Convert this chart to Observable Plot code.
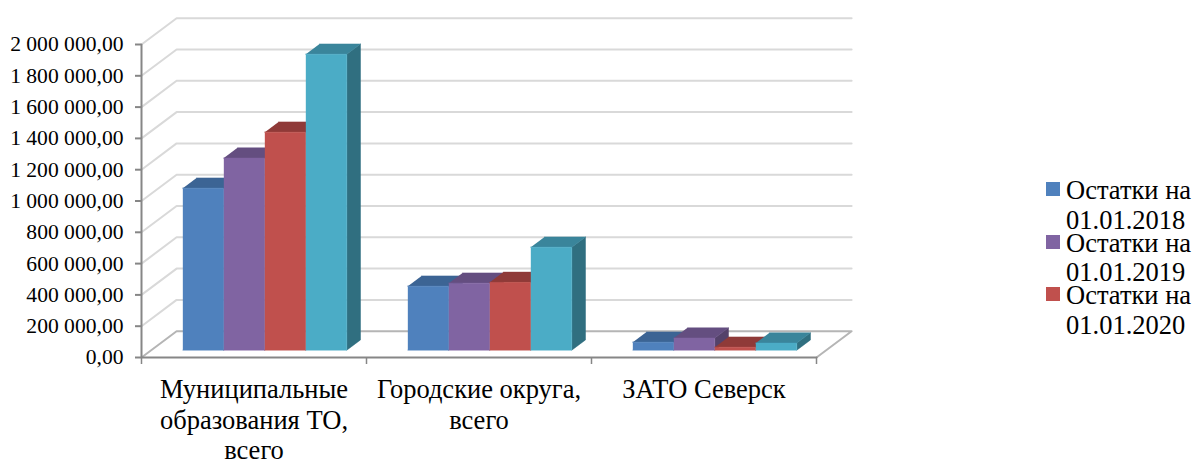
<!DOCTYPE html>
<html><head><meta charset="utf-8">
<script src="https://cdn.jsdelivr.net/npm/d3@7"></script>
<script src="https://cdn.jsdelivr.net/npm/@observablehq/plot@0.6"></script>
<style>
html,body{margin:0;padding:0;background:#fff}
#wrap{position:relative;width:1195px;height:459px;overflow:hidden}
#legend{position:absolute;left:1046px;top:176px;font:26.5px/29.5px "Liberation Serif",serif;color:#000}
#legend div{position:relative;padding-left:20px;height:52.5px;white-space:nowrap}
#legend i{position:absolute;left:0;top:6px;width:14px;height:14px}
</style></head><body><div id="wrap"></div>
<script>
const categories = ["Муниципальные\nобразования ТО,\nвсего", "Городские округа,\nвсего", "ЗАТО Северск"];
const series = ["Остатки на\n01.01.2018", "Остатки на\n01.01.2019", "Остатки на\n01.01.2020", "Остатки на\n01.01.2021"];
const values2018 = [1035000, 409000, 51000];
const values2019 = [1227000, 428000, 77000];
const values2020 = [1393000, 433000, 19000];
const values2021 = [1891000, 658000, 45000];
const frontColors = ["#4f81bd", "#8064a2", "#c0504d", "#4bacc6"];
const topColors = ["#3c6494", "#644e80", "#8f3a38", "#3a859b"];
const sideColors = ["#34547c", "#54426a", "#7a3230", "#306f80"];
const yTicks = [0, 200000, 400000, 600000, 800000, 1000000, 1200000, 1400000, 1600000, 1800000, 2000000];
const table = [values2018, values2019, values2020, values2021];

// oblique projection: depth 0 = front plane, depth 1 = back wall
const depthX = 0.156, depthY = 168000;
const P = (x, v, d) => ({x: x + d * depthX, y: v + d * depthY});
const barW = 0.1822, groupLeft = 0.14, frontD = 0.28, backD = 0.67;

const polys = [];
const add = (id, color, pts) => pts.forEach(p => polys.push({id, color, ...p}));
categories.forEach((_, c) => table.forEach((vals, s) => {
  const x0 = c + groupLeft + s * barW, x1 = x0 + barW, v = vals[c], id = c + "-" + s;
  add(id + "side", sideColors[s], [P(x1, 0, frontD), P(x1, 0, backD), P(x1, v, backD), P(x1, v, frontD)]);
  add(id + "top", topColors[s], [P(x0, v, frontD), P(x1, v, frontD), P(x1, v, backD), P(x0, v, backD)]);
  add(id + "front", frontColors[s], [P(x0, 0, frontD), P(x1, 0, frontD), P(x1, v, frontD), P(x0, v, frontD)]);
}));

const walls = [];
yTicks.filter(t => t > 0).forEach(t => [P(0, t, 0), P(0, t, 1), P(3, t, 1)].forEach(p => walls.push({id: t, ...p})));
const floorEdge = [P(0, 0, 0), P(0, 0, 1), P(3, 0, 1), P(3, 0, 0)];
const axisLines = [P(0, 2000000, 0), P(0, 0, 0), P(3, 0, 0)];

const fmt = d3.formatLocale({decimal: ",", thousands: " ", grouping: [3]}).format(",.2f");

const chart = Plot.plot({
  width: 1195, height: 459,
  marginLeft: 141, marginRight: 379, marginTop: 44, marginBottom: 102,
  x: {domain: [0, 3], label: null},
  y: {domain: [0, 2000000], label: null},
  style: {fontFamily: "'Liberation Serif', serif", fontSize: "21.6px", background: "#fff", color: "#000", overflow: "visible"},
  marks: [
    Plot.line(walls, {x: "x", y: "y", z: "id", stroke: "#d9d9d9", strokeWidth: 2, curve: "linear"}),
    Plot.line(floorEdge, {x: "x", y: "y", stroke: "#b5b5b5", strokeWidth: 2}),
    Plot.line(axisLines, {x: "x", y: "y", stroke: "#868686", strokeWidth: 2}),
    Plot.axisY({ticks: yTicks, tickSize: 6, tickPadding: 12, tickFormat: fmt, stroke: "#868686", fill: "#000", strokeWidth: 2, label: null}),
    Plot.axisX({ticks: [0, 1, 2, 3], tickSize: 7, tickFormat: () => "", stroke: "#868686", strokeWidth: 1.5, label: null}),
    Plot.axisX({ticks: [0.5, 1.5, 2.5], tickSize: 0, tickPadding: 19, tickFormat: (d) => categories[Math.floor(d)], lineHeight: 1.15, fill: "#000", fontSize: 26.5, label: null, textOverflow: null}),
    Plot.line(polys, {x: "x", y: "y", z: "id", fill: "color", stroke: "color", strokeWidth: 0.5, curve: "linear"})
  ]
});
const wrap = document.getElementById("wrap");
wrap.appendChild(chart);

const legend = document.createElement("div");
legend.id = "legend";
series.slice(0, 3).forEach((s, i) => {
  const row = document.createElement("div");
  const sw = document.createElement("i");
  sw.style.background = frontColors[i];
  row.appendChild(sw);
  s.split("\n").forEach(line => {
    const l = document.createElement("span");
    l.style.display = "block";
    l.textContent = line;
    row.appendChild(l);
  });
  legend.appendChild(row);
});
wrap.appendChild(legend);
</script></body></html>
